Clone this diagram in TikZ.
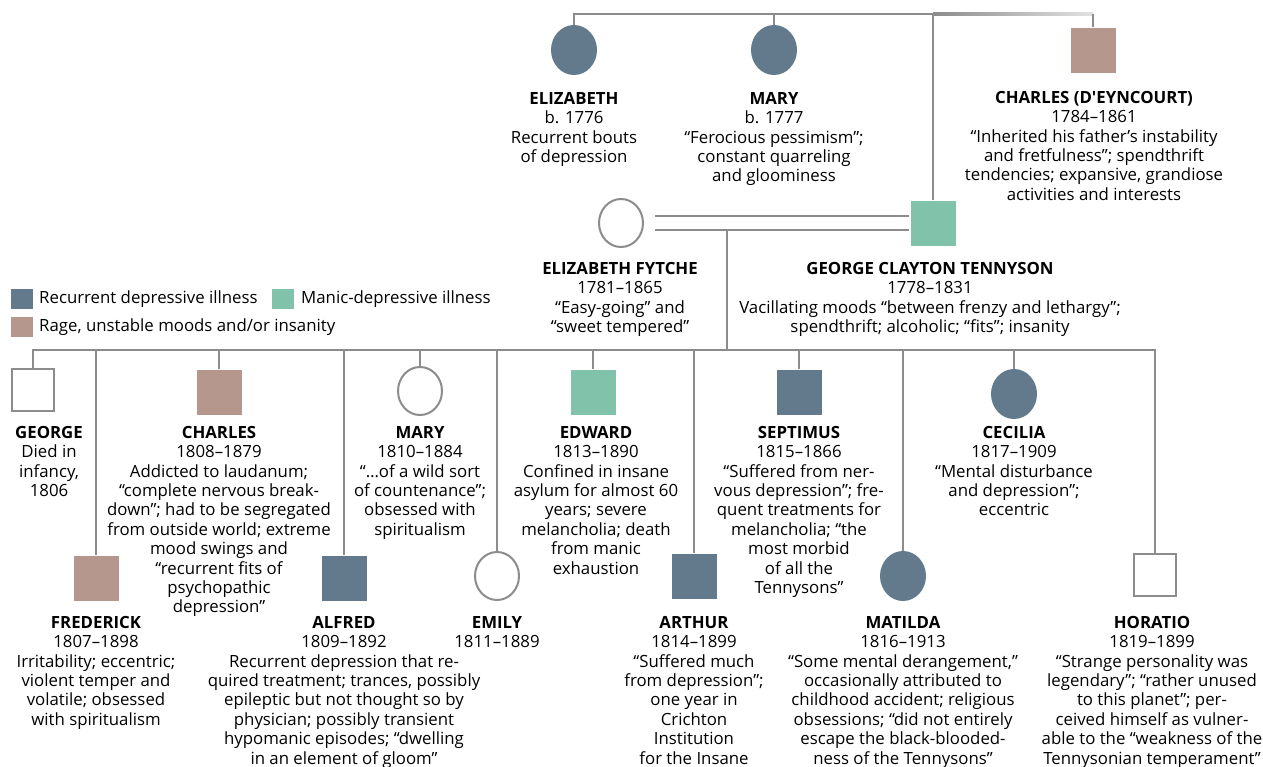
\documentclass[tikz,border=0pt]{standalone}
\usepackage{fontspec}
\setmainfont{Open Sans}[Ligatures=TeXOff]
\usetikzlibrary{shapes.geometric,positioning}

\definecolor{depblue}{HTML}{627A8B}
\definecolor{manicgreen}{HTML}{80C3AA}
\definecolor{ragerose}{HTML}{B6978E}
\definecolor{linegray}{HTML}{8C8C8C}

\tikzset{
  male/.style={rectangle, minimum size=45pt, inner sep=0pt},
  female/.style={ellipse, minimum width=46pt, minimum height=50pt, inner sep=0pt},
  well/.style={draw=linegray, line width=2pt, fill=white, minimum size=42pt},
  dep/.style={fill=depblue},
  manic/.style={fill=manicgreen},
  rage/.style={fill=ragerose},
  tie/.style={draw=linegray, line width=2.5pt},
  info/.style={anchor=north, align=center, inner sep=0pt, font=\fontsize{16.8}{19.4}\selectfont},
  keytext/.style={anchor=west, inner sep=0pt, font=\fontsize{16.8}{19.4}\selectfont},
}

\begin{document}
\begin{tikzpicture}[x=1pt, y=-1pt]
    \useasboundingbox (0,0) rectangle (1263,766);

    % grandparents' generation
    \coordinate (top) at (0,14);
    \node[female, dep] (eliz) at (574,50) {};
    \node[female, dep] (mary1) at (774,50) {};
    \node[male, rage] (dey) at (1093,50) {};
    \node[male, manic] (gct) at (933,223) {};
    \node[female, well, minimum width=44pt, minimum height=48pt] (fytche) at (621,223) {};

    \coordinate (topM) at (gct.north |- top);
    \coordinate (topR) at (dey.north |- top);
    \shade[left color=linegray, right color=linegray!25] ([yshift=1.25pt]topM) rectangle ([yshift=-1.25pt]topR);
    \draw[tie] (eliz.north) -- (eliz.north |- top) -- (topM);
    \draw[tie] (mary1.north) -- (mary1.north |- top);
    \draw[tie] (gct.north) -- (topM);
    \draw[tie] (dey.north) -- (topR);

    % marriage
    \draw[tie] ([xshift=11pt, yshift=7pt]fytche.east) -- ([xshift=-1pt, yshift=7pt]gct.west);
    \draw[tie] ([xshift=11pt, yshift=-7pt]fytche.east) -- ([xshift=-1pt, yshift=-7pt]gct.west);
    \coordinate (mid) at (727,230);
    \coordinate (kidbar) at (0,350);

    \node[info] (l-eliz) at (574,92) {\textbf{ELIZABETH}\\b. 1776\\Recurrent bouts\\of depression};
    \node[info] (l-mary1) at (774,92) {\textbf{MARY}\\b. 1777\\“Ferocious pessimism”;\\constant quarreling\\and gloominess};
    \node[info] (l-dey) at (1094,91) {\textbf{CHARLES (D'EYNCOURT)}\\1784–1861\\“Inherited his father’s instability\\and fretfulness”; spendthrift\\tendencies; expansive, grandiose\\activities and interests};
    \node[info] (l-fytche) at (620,262) {\textbf{ELIZABETH FYTCHE}\\1781–1865\\“Easy-going” and\\“sweet tempered”};
    \node[info] (l-gct) at (930,262) {\textbf{GEORGE CLAYTON TENNYSON}\\1778–1831\\Vacillating moods “between frenzy and lethargy”;\\spendthrift; alcoholic; “fits”; insanity};

    % legend
    \node[dep, minimum width=22pt, minimum height=20pt, inner sep=0pt] (k-dep) at (22,299) {};
    \node[keytext] (t-dep) at (39,299) {Recurrent depressive illness};
    \node[manic, minimum width=22pt, minimum height=20pt, inner sep=0pt] (k-manic) at (283,299) {};
    \node[keytext] (t-manic) at (301,299) {Manic-depressive illness};
    \node[rage, minimum width=22pt, minimum height=20pt, inner sep=0pt] (k-rage) at (22,327) {};
    \node[keytext] (t-rage) at (39,327) {Rage, unstable moods and/or insanity};

    % children
    \node[male, well] (george) at (33,390) {};
    \node[male, rage] (frederick) at (96,578) {};
    \node[male, rage] (charles) at (219,392) {};
    \node[male, dep] (alfred) at (344,578) {};
    \node[female, well, minimum width=44pt, minimum height=48pt] (mary) at (420,391) {};
    \node[female, well, minimum width=44pt, minimum height=48pt] (emily) at (497,576) {};
    \node[male, manic] (edward) at (593,392) {};
    \node[male, dep] (arthur) at (694,576) {};
    \node[male, dep] (septimus) at (799,392) {};
    \node[female, dep] (matilda) at (903,576) {};
    \node[female, dep] (cecilia) at (1014,394) {};
    \node[male, well] (horatio) at (1155,575) {};

    \draw[tie] (mid) -- (mid |- kidbar);
    \draw[tie] (george.north) -- (george.north |- kidbar) -- (horatio.north |- kidbar) -- (horatio.north);
    \foreach \kid in {frederick, charles, alfred, mary, emily, edward, arthur, septimus, matilda, cecilia}
        \draw[tie] (\kid.north) -- (\kid.north |- kidbar);

    \node[info] (l-george) at (49,426) {\textbf{GEORGE}\\Died in\\infancy,\\1806};
    \node[info] (l-charles) at (219,426) {\textbf{CHARLES}\\1808–1879\\Addicted to laudanum;\\“complete nervous break-\\down”; had to be segregated\\from outside world; extreme\\mood swings and\\“recurrent fits of\\psychopathic\\depression”};
    \node[info] (l-mary) at (420,426) {\textbf{MARY}\\1810–1884\\“…of a wild sort\\of countenance”;\\obsessed with\\spiritualism};
    \node[info] (l-edward) at (596,426) {\textbf{EDWARD}\\1813–1890\\Confined in insane\\asylum for almost 60\\years; severe\\melancholia; death\\from manic\\exhaustion};
    \node[info] (l-septimus) at (799,426) {\textbf{SEPTIMUS}\\1815–1866\\“Suffered from ner-\\vous depression”; fre-\\quent treatments for\\melancholia; “the\\most morbid\\of all the\\Tennysons”};
    \node[info] (l-cecilia) at (1014,426) {\textbf{CECILIA}\\1817–1909\\“Mental disturbance\\and depression”;\\eccentric};

    \node[info] (l-frederick) at (96,616) {\textbf{FREDERICK}\\1807–1898\\Irritability; eccentric;\\violent temper and\\volatile; obsessed\\with spiritualism};
    \node[info] (l-alfred) at (344,616) {\textbf{ALFRED}\\1809–1892\\Recurrent depression that re-\\quired treatment; trances, possibly\\epileptic but not thought so by\\physician; possibly transient\\hypomanic episodes; “dwelling\\in an element of gloom”};
    \node[info] (l-emily) at (497,616) {\textbf{EMILY}\\1811–1889};
    \node[info] (l-arthur) at (694,616) {\textbf{ARTHUR}\\1814–1899\\“Suffered much\\from depression”;\\one year in\\Crichton\\Institution\\for the Insane};
    \node[info] (l-matilda) at (903,616) {\textbf{MATILDA}\\1816–1913\\“Some mental derangement,”\\occasionally attributed to\\childhood accident; religious\\obsessions; “did not entirely\\escape the black-blooded-\\ness of the Tennysons”};
    \node[info] (l-horatio) at (1152,616) {\textbf{HORATIO}\\1819–1899\\“Strange personality was\\legendary”; “rather unused\\to this planet”; per-\\ceived himself as vulner-\\able to the “weakness of the\\Tennysonian temperament”};
\end{tikzpicture}
\end{document}
